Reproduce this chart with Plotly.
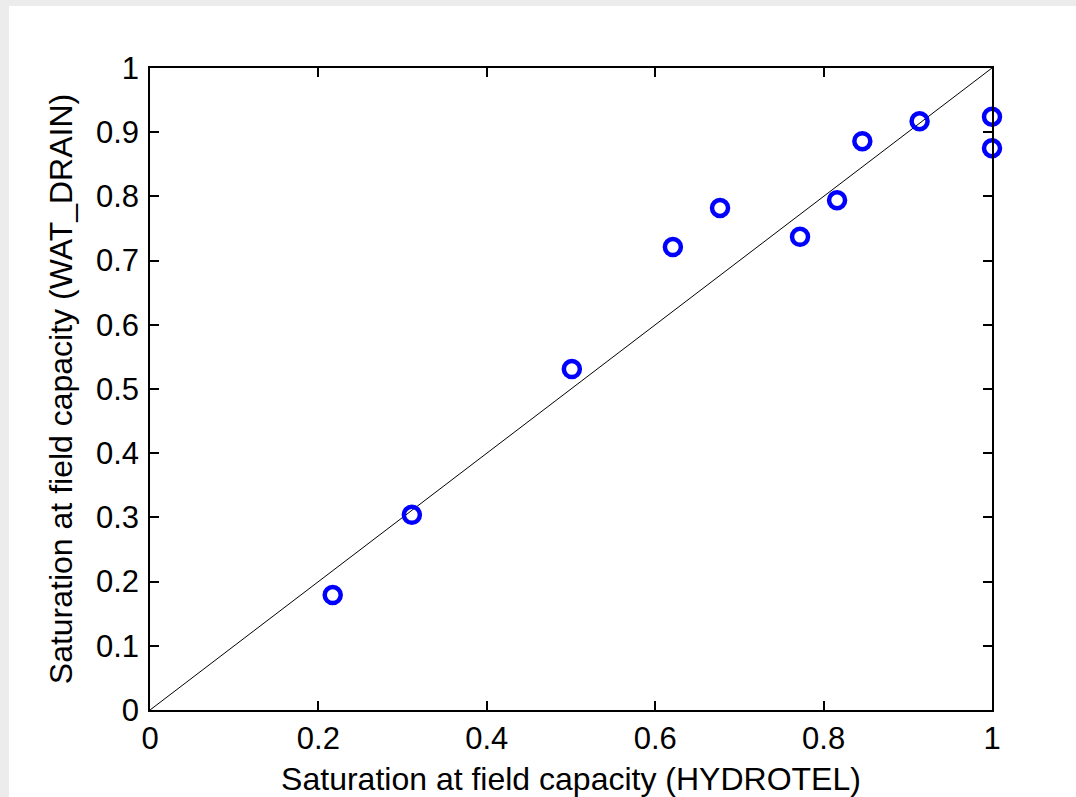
import plotly.graph_objects as go

# Saturation at field capacity: HYDROTEL vs WAT_DRAIN
hydrotel = [0.217, 0.311, 0.501, 0.621, 0.677, 0.772, 0.816, 0.846, 0.914, 1.0, 1.0]
wat_drain = [0.179, 0.304, 0.531, 0.721, 0.782, 0.737, 0.794, 0.886, 0.917, 0.924, 0.875]

one_to_one = [0, 1]
ticks_x = [0, 0.2, 0.4, 0.6, 0.8, 1]
ticks_y = [0, 0.1, 0.2, 0.3, 0.4, 0.5, 0.6, 0.7, 0.8, 0.9, 1]

fig = go.Figure()
fig.add_trace(go.Scatter(x=one_to_one, y=one_to_one, mode="lines",
                         line=dict(color="black", width=1), hoverinfo="skip"))
fig.add_trace(go.Scatter(x=hydrotel, y=wat_drain, mode="markers", cliponaxis=False,
                         marker=dict(symbol="circle-open", size=16, color="#0000ff",
                                     line=dict(width=4.5, color="#0000ff"))))

tick_font = dict(family="Liberation Sans, Arial, sans-serif", size=31, color="black")
title_font = dict(family="Liberation Sans, Arial, sans-serif", size=32, color="black")
axis_common = dict(range=[0, 1], showgrid=False, zeroline=False, showline=True,
                   linecolor="black", linewidth=1.5, mirror="ticks", ticks="inside",
                   ticklen=9, tickwidth=1.5, tickcolor="black", tickfont=tick_font,
                   automargin=False)

fig.update_layout(
    width=1076, height=797,
    margin=dict(l=150, r=84, t=68, b=87),
    paper_bgcolor="#ececec", plot_bgcolor="white",
    showlegend=False,
    xaxis=dict(**axis_common, tickvals=ticks_x, ticktext=[f"{v:g}" for v in ticks_x],
               title=dict(text="Saturation at field capacity (HYDROTEL)", font=title_font, standoff=14)),
    yaxis=dict(**axis_common, tickvals=ticks_y, ticktext=[f"{v:g}" for v in ticks_y],
               ticklabelstandoff=3,
               title=dict(text="Saturation at field capacity (WAT_DRAIN)", font=title_font, standoff=14)),
    shapes=[dict(type="rect", xref="paper", yref="paper", layer="below",
                 x0=-0.1675, x1=1.2, y0=-0.2, y1=1.0966,
                 fillcolor="white", line=dict(width=0))],
)

fig.write_html("out.html")
